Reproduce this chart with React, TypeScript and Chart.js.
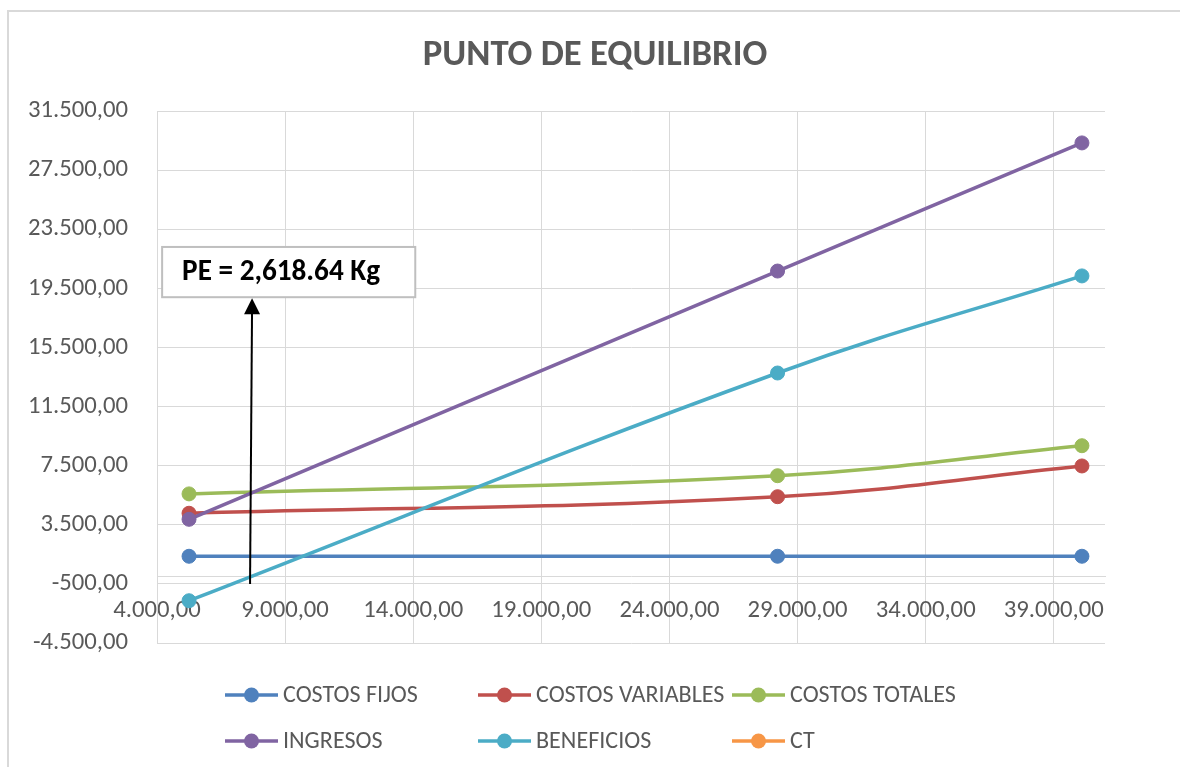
import React, { useEffect, useRef } from "react";
import { Chart, registerables } from "chart.js";

Chart.register(...registerables);

// ---- data ----
const SERIES_NAMES = ["COSTOS FIJOS", "COSTOS VARIABLES", "COSTOS TOTALES", "INGRESOS", "BENEFICIOS", "CT"];
const SERIES_COLORS = ["#4F81BD", "#C0504D", "#9BBB59", "#8064A2", "#4BACC6", "#F79646"];
const X_VALUES = [5250, 28220, 40100];
const COSTOS_FIJOS = [1370, 1370, 1370];
const COSTOS_VARIABLES = [4280, 5400, 7480];
const COSTOS_TOTALES = [5590, 6820, 8850];
const INGRESOS = [3870, 20670, 29340];
const BENEFICIOS = [-1640, 13770, 20340];
const CT: number[] = [];
const X_TICKS = [4000, 9000, 14000, 19000, 24000, 29000, 34000, 39000];
const Y_TICKS = [-4500, -500, 3500, 7500, 11500, 15500, 19500, 23500, 27500, 31500];
const X_MIN = 4000;
const X_MAX = 41000;
const Y_MIN = -4500;
const Y_MAX = 31500;
const TITLE = "PUNTO DE EQUILIBRIO";
const PE_LABEL = "PE = 2,618.64 Kg";
const PE_ARROW_X = 7670;
const PE_ARROW_Y = [-500, 18900];
const PE_BOX_X = [4200, 14080];
const PE_BOX_Y = [18900, 22300];

const SERIES_VALUES = [COSTOS_FIJOS, COSTOS_VARIABLES, COSTOS_TOTALES, INGRESOS, BENEFICIOS, CT];

const FAMILY = "Carlito, Calibri, Lato, 'Open Sans', sans-serif";
const TEXT_COLOR = "#595959";
const GRID_COLOR = "#D9D9D9";

function fmt(v: number): string {
  const neg = v < 0;
  const s = Math.abs(v).toFixed(2);
  const [i, d] = s.split(".");
  const ii = i.replace(/\B(?=(\d{3})+(?!\d))/g, ".");
  return (neg ? "-" : "") + ii + "," + d;
}

function fitFont(text: string, weight: string, target: number): number {
  const c = document.createElement("canvas").getContext("2d")!;
  c.font = `${weight} 100px ${FAMILY}`;
  const w = c.measureText(text).width;
  return Math.round((100 * target) / w * 10) / 10;
}

export default function App() {
  const ref = useRef<HTMLCanvasElement | null>(null);

  useEffect(() => {
    if (!ref.current) return;
    const tickSize = fitFont("31.500,00", "normal", 100);
    const titleSize = fitFont(TITLE, "bold", 345);
    const legendSize = fitFont("COSTOS FIJOS", "normal", 135);
    const peSize = fitFont(PE_LABEL, "bold", 198);

    const decor = {
      id: "decor",
      beforeDraw(chart: any) {
        const ctx = chart.ctx;
        ctx.save();
        ctx.fillStyle = "#FFFFFF";
        ctx.fillRect(0, 0, chart.width, chart.height);
        ctx.strokeStyle = GRID_COLOR;
        ctx.lineWidth = 2;
        ctx.beginPath();
        ctx.moveTo(8, chart.height);
        ctx.lineTo(8, 11);
        ctx.lineTo(chart.width, 11);
        ctx.stroke();
        ctx.restore();
      },
      afterDraw(chart: any) {
        const ctx = chart.ctx;
        const xs = chart.scales.x;
        const ys = chart.scales.y;
        ctx.save();
        // title
        ctx.fillStyle = TEXT_COLOR;
        ctx.font = `bold ${titleSize}px ${FAMILY}`;
        ctx.textAlign = "center";
        ctx.textBaseline = "middle";
        ctx.fillText(TITLE, 595, 56);

        // legend
        const cols = [225, 478, 732];
        const rows = [695, 741];
        ctx.font = `${legendSize}px ${FAMILY}`;
        ctx.textAlign = "left";
        SERIES_NAMES.forEach((name, i) => {
          const cx = cols[i % 3];
          const cy = rows[Math.floor(i / 3)];
          ctx.strokeStyle = SERIES_COLORS[i];
          ctx.lineWidth = 3.5;
          ctx.beginPath();
          ctx.moveTo(cx, cy);
          ctx.lineTo(cx + 53, cy);
          ctx.stroke();
          ctx.fillStyle = SERIES_COLORS[i];
          ctx.beginPath();
          ctx.arc(cx + 26.5, cy, 7.5, 0, Math.PI * 2);
          ctx.fill();
          ctx.fillStyle = TEXT_COLOR;
          ctx.fillText(name, cx + 58, cy + 1);
        });

        // PE annotation
        const bx0 = xs.getPixelForValue(PE_BOX_X[0]);
        const bx1 = xs.getPixelForValue(PE_BOX_X[1]);
        const by0 = ys.getPixelForValue(PE_BOX_Y[1]);
        const by1 = ys.getPixelForValue(PE_BOX_Y[0]);
        ctx.fillStyle = "#FFFFFF";
        ctx.fillRect(bx0, by0, bx1 - bx0, by1 - by0);
        ctx.strokeStyle = "#BFBFBF";
        ctx.lineWidth = 2;
        ctx.strokeRect(bx0, by0, bx1 - bx0, by1 - by0);
        ctx.fillStyle = "#000000";
        ctx.font = `bold ${peSize}px ${FAMILY}`;
        ctx.textBaseline = "middle";
        ctx.fillText(PE_LABEL, bx0 + 20, (by0 + by1) / 2 + 1);

        const ax = xs.getPixelForValue(PE_ARROW_X);
        const ay0 = ys.getPixelForValue(PE_ARROW_Y[0]);
        const ay1 = ys.getPixelForValue(PE_ARROW_Y[1]);
        ctx.strokeStyle = "#000000";
        ctx.lineWidth = 2;
        ctx.beginPath();
        ctx.moveTo(ax - 1, ay0);
        ctx.lineTo(ax + 1, ay1 + 14);
        ctx.stroke();
        ctx.fillStyle = "#000000";
        ctx.beginPath();
        ctx.moveTo(ax + 1, ay1 + 1);
        ctx.lineTo(ax - 7, ay1 + 17);
        ctx.lineTo(ax + 9, ay1 + 17);
        ctx.closePath();
        ctx.fill();
        ctx.restore();
      },
    };

    const datasets = SERIES_NAMES.map((name, i) => ({
      label: name,
      data: SERIES_VALUES[i].map((v, j) => ({ x: X_VALUES[j], y: v })),
      borderColor: SERIES_COLORS[i],
      backgroundColor: SERIES_COLORS[i],
      pointBackgroundColor: SERIES_COLORS[i],
      pointBorderColor: SERIES_COLORS[i],
      pointRadius: 7,
      pointBorderWidth: 1,
      borderWidth: 3.5,
      showLine: true,
      tension: 0.4,
      order: 10 - i,
    }));

    const chart = new Chart(ref.current, {
      type: "scatter",
      data: { datasets },
      plugins: [decor],
      options: {
        animation: false,
        responsive: false,
        events: [],
        layout: { padding: { left: 0, right: 75, top: 111, bottom: 124 } },
        plugins: {
          legend: { display: false },
          title: { display: false },
          tooltip: { enabled: false },
        },
        scales: {
          x: {
            type: "linear",
            position: { y: 0 } as any,
            min: X_MIN,
            max: X_MAX,
            afterBuildTicks: (s: any) => {
              s.ticks = X_TICKS.map((v) => ({ value: v }));
            },
            ticks: {
              autoSkip: false,
              maxRotation: 0,
              padding: 20,
              color: TEXT_COLOR,
              font: { family: FAMILY, size: tickSize },
              callback: (v: any) => fmt(Number(v)),
            },
            grid: { color: GRID_COLOR, drawTicks: false, lineWidth: 1 },
            border: { color: GRID_COLOR, width: 1 },
          },
          y: {
            type: "linear",
            position: "left",
            min: Y_MIN,
            max: Y_MAX,
            afterBuildTicks: (s: any) => {
              s.ticks = Y_TICKS.map((v) => ({ value: v }));
            },
            afterFit: (s: any) => {
              s.width = 157;
            },
            ticks: {
              autoSkip: false,
              padding: 29,
              color: TEXT_COLOR,
              font: { family: FAMILY, size: tickSize },
              callback: (v: any) => fmt(Number(v)),
            },
            grid: { color: GRID_COLOR, drawTicks: false, lineWidth: 1 },
            border: { color: GRID_COLOR, width: 1 },
          },
        },
      } as any,
    });
    return () => chart.destroy();
  }, []);

  return (
    <div style={{ position: "fixed", left: 0, top: 0, width: 1180, height: 767, background: "#fff" }}>
      <canvas ref={ref} width={1180} height={767} style={{ display: "block", width: 1180, height: 767 }} />
    </div>
  );
}
